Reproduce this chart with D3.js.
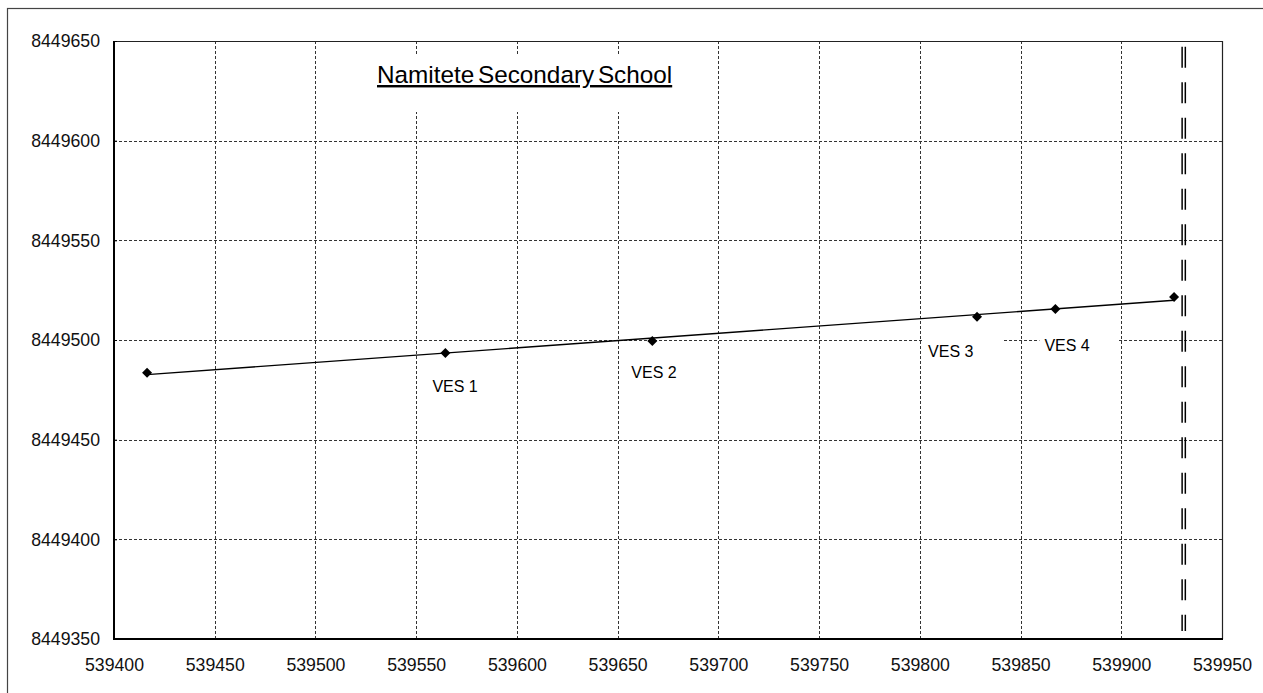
<!DOCTYPE html>
<html>
<head>
<meta charset="utf-8">
<script src="https://cdn.jsdelivr.net/npm/d3@7"></script>
<style>
  html, body { margin: 0; padding: 0; background: #fff; }
  svg { display: block; font-family: "Liberation Sans", Arial, sans-serif; }
</style>
</head>
<body>
<svg id="chart" width="1263" height="693"></svg>
<script>
// ---- data ----
const pointX = [539416.4, 539564.5, 539667.2, 539828.4, 539867.3, 539926.2];
const pointY = [8449483.6, 8449493.5, 8449499.5, 8449511.7, 8449515.5, 8449521.6];
const pointLabels = ["", "VES 1", "VES 2", "VES 3", "VES 4", ""];
const xTicks = [539400, 539450, 539500, 539550, 539600, 539650, 539700, 539750, 539800, 539850, 539900, 539950];
const yTicks = [8449350, 8449400, 8449450, 8449500, 8449550, 8449600, 8449650];
const boundaryX = 539931;
const titleText = "Namitete Secondary School";

// ---- layout ----
const svg = d3.select("#chart");
const plot = { left: 114, top: 41, right: 1222, bottom: 639 };
const x = d3.scaleLinear().domain([539400, 539950]).range([plot.left, plot.right]);
const y = d3.scaleLinear().domain([8449350, 8449650]).range([plot.bottom, plot.top]);

// outer border (left & top visible)
svg.append("rect").attr("x", 7.5).attr("y", 8.5).attr("width", 1280).attr("height", 700)
  .attr("fill", "none").attr("stroke", "#444").attr("stroke-width", 1.2);

// gridlines
const grid = svg.append("g");
grid.selectAll("line.v").data(xTicks.slice(1)).join("line")
  .attr("x1", d => Math.round(x(d)) + 0.5).attr("x2", d => Math.round(x(d)) + 0.5)
  .attr("y1", plot.top).attr("y2", plot.bottom)
  .attr("stroke", "#333").attr("stroke-width", 1).attr("stroke-dasharray", "3,2");
grid.selectAll("line.h").data(yTicks.slice(1)).join("line")
  .attr("y1", d => Math.round(y(d)) + 0.5).attr("y2", d => Math.round(y(d)) + 0.5)
  .attr("x1", plot.left).attr("x2", plot.right)
  .attr("stroke", "#333").attr("stroke-width", 1).attr("stroke-dasharray", "3,2");

// plot frame: right & top solid
svg.append("line").attr("x1", plot.right + 0.5).attr("x2", plot.right + 0.5)
  .attr("y1", plot.top).attr("y2", plot.bottom).attr("stroke", "#222").attr("stroke-width", 1.2);
svg.append("line").attr("x1", plot.left).attr("x2", plot.right)
  .attr("y1", plot.top + 0.5).attr("y2", plot.top + 0.5).attr("stroke", "#222").attr("stroke-width", 1);

// title box
const title = svg.append("g");
title.append("rect").attr("x", 362).attr("y", 55).attr("width", 325).attr("height", 57).attr("fill", "#fff");
title.append("text").attr("x", 377).attr("y", 83)
  .attr("font-size", 24.3).attr("word-spacing", -3).attr("fill", "#000")
  .attr("text-decoration", "underline").text(titleText);

// boundary double dashed line
[-1.6, 1.6].forEach(off => {
  svg.append("line")
    .attr("x1", x(boundaryX) + off).attr("x2", x(boundaryX) + off)
    .attr("y1", plot.top).attr("y2", 631)
    .attr("stroke", "#000").attr("stroke-width", 1.5)
    .attr("stroke-dasharray", "21,14.5").attr("stroke-dashoffset", 29.8);
});

// trend line (least squares fit of points)
const mx = d3.mean(pointX), my = d3.mean(pointY);
const sxy = d3.sum(pointX, (d, i) => (d - mx) * (pointY[i] - my));
const sxx = d3.sum(pointX, d => (d - mx) * (d - mx));
const slope = sxy / sxx, intercept = my - slope * mx;
const xMin = d3.min(pointX), xMax = d3.max(pointX);
svg.append("line")
  .attr("x1", x(xMin)).attr("y1", y(intercept + slope * xMin))
  .attr("x2", x(xMax)).attr("y2", y(intercept + slope * xMax))
  .attr("stroke", "#000").attr("stroke-width", 1.4);

// markers
svg.selectAll("path.pt").data(pointX).join("path")
  .attr("transform", (d, i) => `translate(${x(d)},${y(pointY[i])})`)
  .attr("d", "M0,-5L5,0L0,5L-5,0Z").attr("fill", "#000");

// point labels (pixel offsets from their point)
const labelOffsets = [[0, 0], [-13, 39], [-21, 37], [-49, 40], [-11, 42], [0, 0]];
const lbl = svg.append("g");
pointLabels.forEach((t, i) => {
  if (!t) return;
  const lx = x(pointX[i]) + labelOffsets[i][0];
  const ly = y(pointY[i]) + labelOffsets[i][1];
  lbl.append("rect").attr("x", lx - 5).attr("y", ly - 22).attr("width", 79).attr("height", 28).attr("fill", "#fff");
  lbl.append("text").attr("x", lx).attr("y", ly).attr("font-size", 16).attr("fill", "#000").text(t);
});

// axes lines (left & bottom)
svg.append("line").attr("x1", plot.left).attr("x2", plot.left)
  .attr("y1", plot.top).attr("y2", plot.bottom + 1).attr("stroke", "#000").attr("stroke-width", 2);
svg.append("line").attr("x1", plot.left - 1).attr("x2", plot.right + 1)
  .attr("y1", plot.bottom).attr("y2", plot.bottom).attr("stroke", "#000").attr("stroke-width", 2);

// axes labels via d3 axes
const xAxis = svg.append("g").attr("transform", `translate(0,${plot.bottom})`)
  .call(d3.axisBottom(x).tickValues(xTicks).tickFormat(d3.format("d")).tickSize(0).tickPadding(19));
const yAxis = svg.append("g").attr("transform", `translate(${plot.left},0)`)
  .call(d3.axisLeft(y).tickValues(yTicks).tickFormat(d3.format("d")).tickSize(3).tickPadding(11));
[xAxis, yAxis].forEach(a => {
  a.select(".domain").remove();
  a.selectAll("text").attr("font-size", 17.7).attr("fill", "#111")
    .attr("font-family", "Liberation Sans, Arial, sans-serif");
  a.selectAll("line").attr("stroke", "#000");
});
yAxis.selectAll(".tick line").attr("x2", 3);
</script>
</body>
</html>
